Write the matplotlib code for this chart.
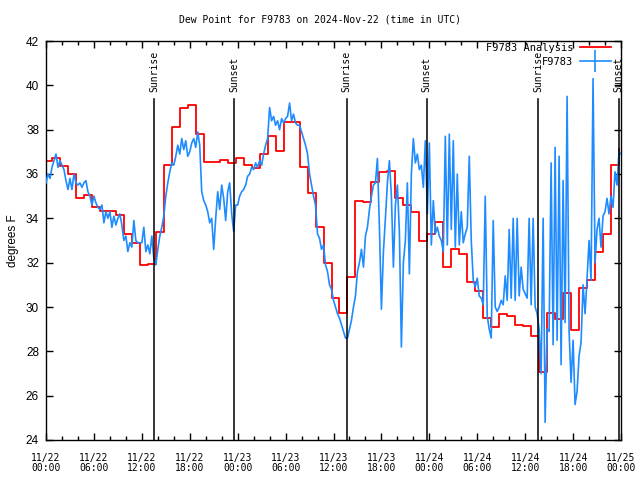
import matplotlib
matplotlib.use("Agg")
import matplotlib.pyplot as plt
import matplotlib.dates as mdates
from matplotlib.lines import Line2D
import pandas as pd
import numpy as np

# ---------------- data ----------------
start = pd.Timestamp("2024-11-22 00:00")

# hourly analysis values (steps change at HH:45)
red_day1 = [36.6, 36.7, 36.35, 36.0, 34.9, 35.05, 34.5, 34.35, 34.35, 34.15, 33.3, 32.9,
            31.9, 31.95, 33.4, 36.4, 38.1, 39.0, 39.1, 37.8, 36.55, 36.55, 36.65, 36.5]
red_day2 = [36.7, 36.4, 36.25, 36.9, 37.7, 37.05, 38.35, 38.35, 36.3, 35.15, 33.6, 32.0,
            30.4, 29.75, 31.35, 34.8, 34.75, 35.65, 36.1, 36.15, 34.9, 34.6, 34.3, 33.0]
red_day3 = [33.3, 33.85, 31.8, 32.6, 32.4, 31.15, 30.7, 29.5, 29.1, 29.7, 29.6, 29.2,
            29.15, 28.7, 27.05, 29.75, 29.45, 30.65, 28.95, 30.85, 31.2, 32.5, 33.3, 36.4]
red_last = [37.15]

# observations, 4 per hour
blue_day1 = [
    35.6, 36.0, 35.8, 36.3,  36.6, 36.9, 36.3, 36.6,  36.4, 36.2, 35.7, 35.3,
    35.8, 35.3, 36.0, 35.6,  35.5, 35.6, 35.4, 35.6,  35.7, 35.2, 35.0, 34.6,
    35.0, 34.7, 34.5, 34.4,  34.6, 33.8, 34.3, 34.0,  34.3, 33.6, 34.1, 33.7,
    34.0, 34.2, 33.7, 33.0,  33.2, 32.5, 32.9, 32.7,  33.9, 33.0, 32.9, 32.9,
    32.9, 33.6, 32.5, 32.8,  32.4, 33.2, 32.2, 31.9,  32.6, 33.2, 33.6, 34.1,
    35.0, 35.6, 36.1, 36.5,  36.4, 36.8, 37.3, 36.9,  37.6, 37.1, 37.5, 36.8,
    37.0, 37.4, 37.6, 37.2,  37.9, 37.3, 35.2, 34.8,  34.6, 34.3, 33.8, 34.0,
    32.6, 34.0, 35.2, 34.4,  35.5, 34.9, 33.9, 35.2,  35.6, 34.2, 33.4, 34.6]
blue_day2 = [
    34.6, 35.0, 35.2, 35.3,  35.5, 35.9, 36.0, 36.3,  36.2, 36.5, 36.3, 36.6,
    36.4, 36.9, 37.3, 37.6,  39.0, 38.4, 38.6, 38.2,  38.4, 38.0, 38.5, 38.3,
    38.5, 38.6, 39.2, 38.4,  38.7, 38.3, 38.2, 38.2,  37.9, 37.6, 37.3, 36.9,
    36.0, 35.5, 35.0, 34.6,  33.3, 33.1, 32.6, 32.8,  31.9, 31.6, 31.0, 30.8,
    30.3, 30.0, 29.7, 29.5,  29.2, 28.9, 28.6, 28.6,  29.0, 29.4, 30.0, 30.5,
    31.6, 32.0, 32.6, 31.8,  33.2, 33.6, 34.4, 35.0,  35.5, 35.6, 36.7, 33.6,
    29.9, 32.5, 34.0, 35.6,  36.6, 35.0, 31.8, 34.6,  35.5, 33.4, 28.2, 32.0,
    33.0, 35.6, 31.5, 36.0,  37.6, 36.5, 36.9, 36.2,  36.4, 35.4, 37.5, 34.2]
blue_day3 = [
    37.4, 32.8, 34.8, 33.3,  33.6, 33.2, 33.0, 32.5,  37.7, 32.8, 37.8, 33.5,
    37.5, 32.7, 36.0, 32.8,  34.3, 32.9, 33.3, 33.6,  36.8, 33.0, 31.2, 30.9,
    31.3, 30.5, 30.4, 30.1,  35.0, 29.6, 29.0, 28.6,  33.9, 30.0, 29.8, 30.0,
    30.3, 30.1, 31.4, 30.3,  33.5, 30.4, 34.0, 30.3,  34.0, 30.5, 31.8, 30.8,
    30.6, 30.4, 34.0, 30.1,  34.0, 30.0, 29.7, 29.0,  27.0, 34.0, 24.8, 29.0,
    28.9, 36.5, 28.3, 37.2,  28.5, 36.8, 27.4, 35.7,  29.3, 39.5, 28.9, 26.6,
    28.5, 25.6, 26.2, 27.8,  28.4, 31.0, 29.7, 31.3,  33.0, 31.2, 40.3, 32.0,
    33.5, 34.0, 32.7, 34.1,  34.3, 34.9, 34.2, 35.0,  34.5, 36.1, 35.5, 37.0]
blue_last = [36.9]

sunrise_times = ["2024-11-22 13:34", "2024-11-23 13:39", "2024-11-24 13:39"]
sunset_times = ["2024-11-22 23:35", "2024-11-23 23:40", "2024-11-24 23:42"]

title = "Dew Point for F9783 on 2024-Nov-22 (time in UTC)"
ylabel = "degrees F"
label_red = "F9783 Analysis"
label_blue = "F9783"

# ---------------- build series ----------------
red_vals = red_day1 + red_day2 + red_day3 + red_last
red_times = pd.date_range(start - pd.Timedelta(minutes=15), periods=len(red_vals), freq="60min")
blue_vals = blue_day1 + blue_day2 + blue_day3 + blue_last
blue_times = pd.date_range(start, periods=len(blue_vals), freq="15min")

RED = "#ff0000"
BLUE = "#1e8cff"
mono = "DejaVu Sans Mono"
sans = "Liberation Sans"

fig = plt.figure(figsize=(6.4, 4.8), dpi=100)
ax = fig.add_axes([46 / 640, 40 / 480, 575 / 640, 399 / 480])

ax.plot(red_times, red_vals, drawstyle="steps-post", color=RED, lw=1.3, zorder=2)
ax.plot(blue_times, blue_vals, color=BLUE, lw=1.2, zorder=3)

line_top = (440 - 99) / 399
text_bot = (440 - 92) / 399
for lbl, times in (("Sunrise", sunrise_times), ("Sunset", sunset_times)):
    for t in times:
        tt = pd.Timestamp(t)
        ax.axvline(tt, ymin=0, ymax=line_top, color="black", lw=1.1, zorder=4)
        ax.text(tt, text_bot, lbl, transform=ax.get_xaxis_transform(), rotation=90,
                ha="center", va="bottom", fontsize=7, family=mono)

ax.set_xlim(start, start + pd.Timedelta(hours=72))
ax.set_ylim(24, 42)
ax.set_yticks(np.arange(24, 43, 2))

ax.xaxis.set_major_locator(mdates.HourLocator(byhour=range(0, 24, 6)))
ax.xaxis.set_minor_locator(mdates.HourLocator(byhour=range(0, 24, 2)))
ax.xaxis.set_major_formatter(mdates.DateFormatter("%m/%d\n%H:%M"))

ax.tick_params(axis="both", which="both", direction="in", top=True, right=True, color="black")
ax.tick_params(axis="x", which="major", length=5, width=1, pad=9)
ax.tick_params(axis="x", which="minor", length=3, width=1)
ax.tick_params(axis="y", which="major", length=5, width=1, pad=5)
for lab in ax.get_xticklabels():
    lab.set_fontfamily(mono)
    lab.set_fontsize(7)
    lab.set_linespacing(1.1)
for lab in ax.get_yticklabels():
    lab.set_fontfamily(sans)
    lab.set_fontsize(8.5)

for s in ax.spines.values():
    s.set_linewidth(1.0)
    s.set_color("black")

ax.set_ylabel(ylabel, fontsize=8.5, family=sans, labelpad=5)
fig.text(0.5, 1 - 19 / 480, title, ha="center", va="center", fontsize=7, family=mono)

handles = [Line2D([], [], color=RED, lw=1.3),
           Line2D([], [], color=BLUE, lw=1.2, marker="|", markersize=16, markeredgewidth=1.2)]
leg = ax.legend(handles, [label_red, label_blue], loc="upper right",
                bbox_to_anchor=(611 / 640, 1 - 43 / 480), bbox_transform=fig.transFigure,
                frameon=False, markerfirst=False, borderaxespad=0, borderpad=0,
                handlelength=3.0, handletextpad=0.6, labelspacing=0.35, numpoints=1,
                prop={"family": mono, "size": 7.5})

fig.savefig("out.png", dpi=100)
